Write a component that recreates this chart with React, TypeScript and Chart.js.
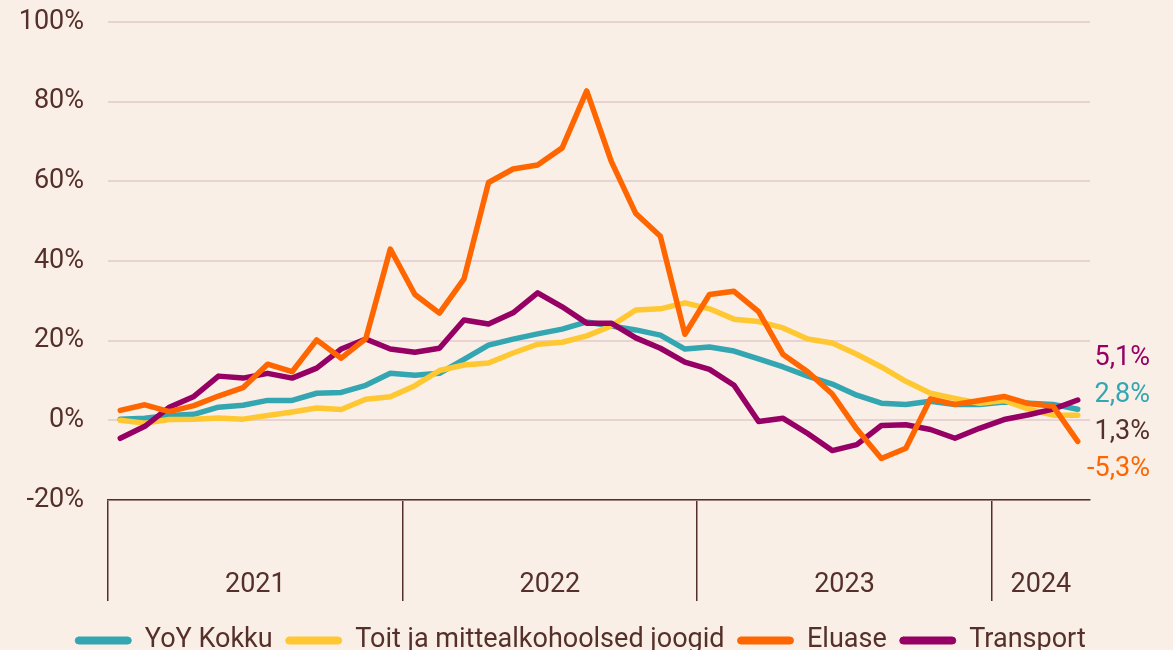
import React, { useEffect, useRef } from 'react';
import { Chart, registerables } from 'chart.js';

Chart.register(...registerables);

const months = [
  '2021-01', '2021-02', '2021-03', '2021-04', '2021-05', '2021-06', '2021-07', '2021-08', '2021-09', '2021-10', '2021-11', '2021-12',
  '2022-01', '2022-02', '2022-03', '2022-04', '2022-05', '2022-06', '2022-07', '2022-08', '2022-09', '2022-10', '2022-11', '2022-12',
  '2023-01', '2023-02', '2023-03', '2023-04', '2023-05', '2023-06', '2023-07', '2023-08', '2023-09', '2023-10', '2023-11', '2023-12',
  '2024-01', '2024-02', '2024-03', '2024-04',
];

const seriesNames = ['YoY Kokku', 'Toit ja mittealkohoolsed joogid', 'Eluase', 'Transport'];

const kokku = [
  0.3, 0.5, 1.2, 1.5, 3.3, 3.8, 5.0, 5.0, 6.8, 7.0, 8.8, 11.8,
  11.3, 11.8, 15.3, 18.9, 20.4, 21.7, 22.9, 24.7, 23.7, 22.7, 21.4, 17.9,
  18.4, 17.4, 15.4, 13.4, 11.1, 9.1, 6.3, 4.3, 4.0, 4.8, 4.0, 4.0,
  4.6, 4.3, 4.0, 2.8,
];

const toit = [
  0.0, -0.7, 0.2, 0.3, 0.6, 0.3, 1.2, 2.1, 3.1, 2.7, 5.3, 5.9,
  8.7, 12.5, 13.9, 14.4, 16.9, 19.1, 19.6, 21.2, 23.7, 27.7, 28.0, 29.5,
  28.0, 25.4, 24.8, 23.2, 20.4, 19.4, 16.6, 13.4, 9.8, 6.8, 5.5, 4.3,
  5.0, 2.8, 1.3, 1.3,
];

const eluase = [
  2.5, 3.9, 2.2, 3.7, 6.1, 8.2, 14.1, 12.2, 20.2, 15.6, 20.5, 43.0,
  31.6, 26.9, 35.5, 59.7, 63.1, 64.1, 68.4, 82.7, 65.0, 51.9, 46.2, 21.6,
  31.6, 32.4, 27.3, 16.5, 12.2, 6.6, -2.2, -9.6, -7.0, 5.4, 4.0, 5.0,
  6.0, 4.2, 3.5, -5.3,
];

const transport = [
  -4.5, -1.5, 3.3, 6.0, 11.1, 10.6, 11.8, 10.6, 13.1, 17.9, 20.4, 17.9,
  17.1, 18.1, 25.2, 24.2, 27.0, 32.0, 28.5, 24.4, 24.4, 20.7, 18.1, 14.6,
  12.8, 8.8, -0.3, 0.5, -3.3, -7.6, -6.1, -1.3, -1.1, -2.3, -4.5, -2.0,
  0.2, 1.4, 2.8, 5.1,
];

const yTicks = [-20, 0, 20, 40, 60, 80, 100];

const BG = '#f9efe6';
const TEXT = '#55302a';
const GRID = '#e8d3d3';
const COLORS = ['#33a6b2', '#ffc832', '#ff6600', '#960064'];
const LABEL_COLORS = ['#33a6b2', '#55302a', '#ff6600', '#960064'];
const DRAW_ORDER = [3, 2, 0, 1];
const FONT = 'Roboto';
const FS = 27;

const yearOf = (m: string) => m.slice(0, 4);

const decorPlugin = {
  id: 'decor',
  afterDraw(chart: any) {
    const { ctx, chartArea, scales } = chart;
    const x = scales.x;
    const y = scales.y;
    ctx.save();
    ctx.font = `${FS}px ${FONT}`;
    ctx.fillStyle = TEXT;
    ctx.textAlign = 'center';
    ctx.textBaseline = 'middle';
    let start = 0;
    for (let i = 1; i <= months.length; i++) {
      if (i === months.length || yearOf(months[i]) !== yearOf(months[start])) {
        const mid = (x.getPixelForValue(start) + x.getPixelForValue(i - 1)) / 2;
        ctx.fillText(yearOf(months[start]), mid, chartArea.bottom + 85);
        start = i;
      }
    }
    const items = chart.data.datasets.map((ds: any, di: number) => {
      const v = ds.data[ds.data.length - 1];
      return { di, v, py: y.getPixelForValue(v) };
    });
    items.sort((a: any, b: any) => b.v - a.v);
    const spacing = 37;
    const meanY = items.reduce((s: number, it: any) => s + it.py, 0) / items.length;
    const top = meanY - (spacing * (items.length - 1)) / 2 - 3;
    ctx.textAlign = 'right';
    items.forEach((it: any, k: number) => {
      ctx.fillStyle = LABEL_COLORS[it.di];
      const txt = it.v.toFixed(1).replace('.', ',') + '%';
      ctx.fillText(txt, chartArea.right + 60, top + k * spacing);
    });
    ctx.restore();
  },
};

export default function App() {
  const ref = useRef<HTMLCanvasElement | null>(null);

  useEffect(() => {
    document.body.style.background = BG;
    const values = [kokku, toit, eluase, transport];
    const chart = new Chart(ref.current as HTMLCanvasElement, {
      type: 'line',
      data: {
        labels: months,
        datasets: values.map((d, i) => ({
          label: seriesNames[i],
          data: d,
          borderColor: COLORS[i],
          backgroundColor: COLORS[i],
          borderWidth: 5.5,
          pointRadius: 0,
          tension: 0,
          borderCapStyle: 'round' as const,
          borderJoinStyle: 'round' as const,
          order: DRAW_ORDER[i],
        })),
      },
      options: {
        animation: false,
        responsive: true,
        maintainAspectRatio: false,
        layout: { padding: { top: 22, right: 12, left: 0, bottom: 0 } },
        plugins: {
          tooltip: { enabled: false },
          legend: {
            position: 'bottom',
            labels: {
              font: { family: FONT, size: FS },
              color: TEXT,
              boxWidth: 56,
              boxHeight: 7,
              padding: 13,
              useBorderRadius: true,
              borderRadius: 3.5,
              generateLabels: (c: any) =>
                (Chart.defaults.plugins.legend.labels.generateLabels as any)(c)
                  .map((l: any) => ({ ...l, lineWidth: 1, strokeStyle: l.fillStyle }))
                  .sort((a: any, b: any) => a.datasetIndex - b.datasetIndex),
            },
          },
        },
        scales: {
          x: {
            type: 'category',
            offset: true,
            ticks: { display: false },
            grid: {
              offset: true,
              drawOnChartArea: false,
              drawTicks: true,
              tickLength: 101,
              lineWidth: 1.5,
              color: (c: any) => {
                const i = c.index;
                const edge = i === 0 || i === months.length || (i > 0 && i < months.length && yearOf(months[i]) !== yearOf(months[i - 1]));
                return edge ? TEXT : 'rgba(0,0,0,0)';
              },
            },
            border: { display: true, color: TEXT, width: 1.5 },
            afterFit: (s: any) => { s.height = 114; s.paddingLeft = 0; s.paddingRight = 0; },
          },
          y: {
            min: -20,
            max: 100,
            afterBuildTicks: (s: any) => { s.ticks = yTicks.map((v) => ({ value: v })); },
            ticks: {
              font: { family: FONT, size: FS },
              color: TEXT,
              padding: 24,
              callback: (v: any) => `${v}%`,
            },
            grid: { color: GRID, lineWidth: 2, drawTicks: false },
            border: { display: false },
            afterFit: (s: any) => { s.width = 108; s.paddingTop = 0; s.paddingBottom = 0; },
          },
          yRight: {
            position: 'right',
            display: true,
            ticks: { display: false },
            grid: { display: false, drawOnChartArea: false },
            border: { display: false },
            afterFit: (s: any) => { s.width = 71; s.paddingTop = 0; s.paddingBottom = 0; },
          },
        },
      },
      plugins: [decorPlugin],
    });
    return () => chart.destroy();
  }, []);

  return (
    <div style={{ position: 'fixed', left: 0, top: 0, width: 1173, height: 664, background: BG }}>
      <canvas ref={ref} />
    </div>
  );
}
